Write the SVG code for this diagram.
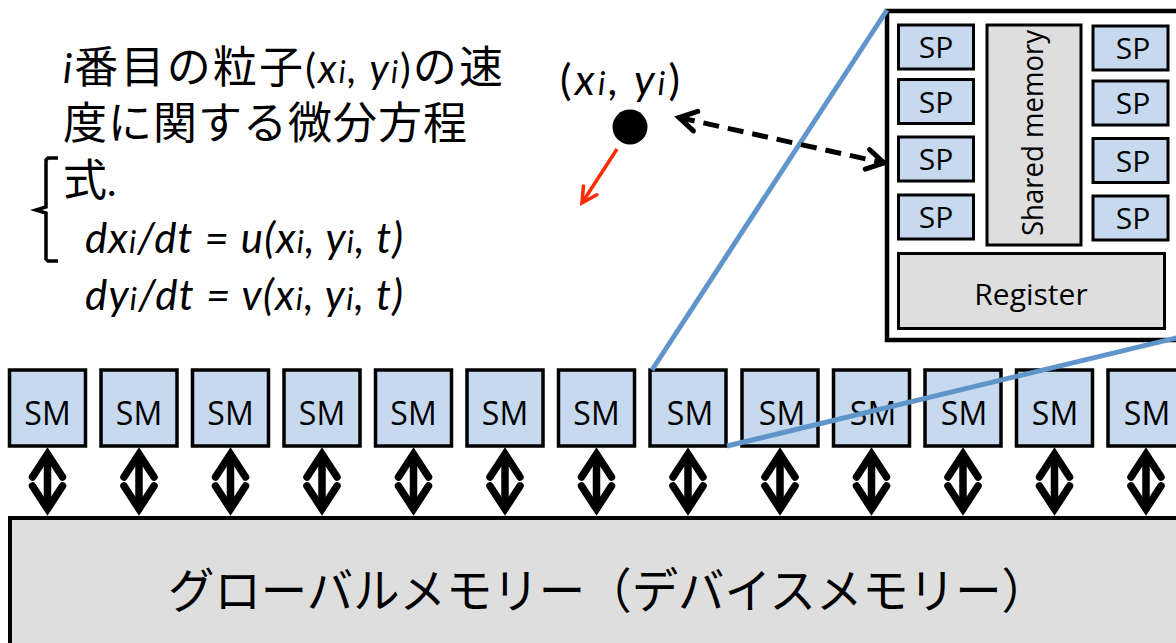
<svg xmlns="http://www.w3.org/2000/svg" xmlns:xlink="http://www.w3.org/1999/xlink" width="1176" height="643" viewBox="0 0 1176 643">
<style>
.sm{fill:#c6d9ee;stroke:#000;stroke-width:3.5}
.sp{fill:#c6d9ee;stroke:#000;stroke-width:3}
.gray{fill:#dedede;stroke:#000;stroke-width:3}
.lbl{font-family:"Open Sans","Liberation Sans",sans-serif;font-size:30px;text-anchor:middle;fill:#000}
.smt{font-size:32px}
.jp{font-family:"Lato","Noto Sans CJK JP",sans-serif;fill:#000}
.it{font-style:italic}
.blue{stroke:#5f95cb;stroke-width:5;fill:none;stroke-linecap:butt}
.arr{stroke:#000;stroke-width:7.5;fill:none;stroke-linecap:round;stroke-linejoin:miter}
</style>
<defs>
<g id="dbl">
<line class="arr" x1="0" y1="455" x2="0" y2="508" stroke-linecap="butt"/>
<polyline class="arr" points="-15,477 0,454 15,477"/>
<polyline class="arr" points="-15,486 0,509 15,486"/>
</g>
<marker id="dhead" markerUnits="userSpaceOnUse" viewBox="-25 -15 30 30" markerWidth="30" markerHeight="30" refX="0" refY="0" orient="auto-start-reverse" overflow="visible">
<polyline points="-17,-10 0,0 -17,10" fill="none" stroke="#000" stroke-width="5" stroke-linecap="round" stroke-linejoin="miter"/>
</marker>
<marker id="rhead" markerUnits="userSpaceOnUse" viewBox="-20 -12 24 24" markerWidth="24" markerHeight="24" refX="0" refY="0" orient="auto" overflow="visible">
<polyline points="-15,-8 0,0 -15,8" fill="none" stroke="#ff2a00" stroke-width="3.5" stroke-linecap="round"/>
</marker>
</defs>
<rect width="1176" height="643" fill="#fff"/>

<g id="text-equation">
<text class="jp" x="63" y="83" font-size="44" textLength="440" lengthAdjust="spacing"><tspan class="it" font-size="40">i</tspan>番目の粒子<tspan font-size="40">(</tspan><tspan class="it" font-size="40">x</tspan><tspan class="it" font-size="30">i</tspan><tspan class="it" font-size="40">, y</tspan><tspan class="it" font-size="30">i</tspan><tspan font-size="40">)</tspan>の速</text>
<text class="jp" x="63" y="139" font-size="44" textLength="404" lengthAdjust="spacing">度に関する微分方程</text>
<text class="jp" x="63" y="196" font-size="44">式<tspan font-size="40">.</tspan></text>
<path d="M58,158 L48,158 L46,160 L46,207 L36,210 L46,213 L46,259 L48,261 L58,261" fill="none" stroke="#000" stroke-width="3.5"/>
<text class="jp it" x="85" y="253" font-size="42" textLength="318" lengthAdjust="spacing">dx<tspan font-size="31">i</tspan>/dt = u(x<tspan font-size="31">i</tspan>, y<tspan font-size="31">i</tspan>, t)</text>
<text class="jp it" x="85" y="310" font-size="42" textLength="318" lengthAdjust="spacing">dy<tspan font-size="31">i</tspan>/dt = v(x<tspan font-size="31">i</tspan>, y<tspan font-size="31">i</tspan>, t)</text>
</g>

<g id="particle">
<text class="jp" x="560" y="95" font-size="43" textLength="120" lengthAdjust="spacing">(<tspan class="it">x</tspan><tspan class="it" font-size="32">i</tspan><tspan class="it">, y</tspan><tspan class="it" font-size="32">i</tspan>)</text>
<circle cx="630" cy="127" r="17.5" fill="#000"/>
</g>

<g id="sm-detail">
<rect x="887" y="11" width="300" height="329" fill="#fff" stroke="#000" stroke-width="4.5"/>
<g id="sp-l1"><rect class="sp" x="898.5" y="25" width="75" height="44"/><text class="lbl" x="936" y="58">SP</text></g>
<g id="sp-l2"><rect class="sp" x="898.5" y="79.5" width="75" height="44"/><text class="lbl" x="936" y="112.5">SP</text></g>
<g id="sp-l3"><rect class="sp" x="898.5" y="137" width="75" height="44"/><text class="lbl" x="936" y="170">SP</text></g>
<g id="sp-l4"><rect class="sp" x="898.5" y="195" width="75" height="44"/><text class="lbl" x="936" y="228">SP</text></g>
<g id="sp-r1"><rect class="sp" x="1093" y="26" width="75" height="44"/><text class="lbl" x="1133" y="59">SP</text></g>
<g id="sp-r2"><rect class="sp" x="1093" y="81" width="75" height="44"/><text class="lbl" x="1133" y="114">SP</text></g>
<g id="sp-r3"><rect class="sp" x="1093" y="138.5" width="75" height="44"/><text class="lbl" x="1133" y="171.5">SP</text></g>
<g id="sp-r4"><rect class="sp" x="1093" y="196" width="75" height="44"/><text class="lbl" x="1133" y="229">SP</text></g>
<g id="shared-memory"><rect class="gray" x="987" y="25" width="94" height="220"/><text class="lbl" font-size="26" transform="translate(1043,133) rotate(-90)" textLength="206" lengthAdjust="spacingAndGlyphs">Shared memory</text></g>
<g id="register"><rect class="gray" x="898.5" y="253.5" width="266" height="75"/><text class="lbl" x="1031" y="305" font-size="29">Register</text></g>
</g>

<g id="sm-row">
<g id="sm1"><rect class="sm" x="9.5" y="370" width="76" height="76"/><text class="lbl smt" x="47.5" y="425">SM</text></g>
<g id="sm2"><rect class="sm" x="101" y="370" width="76" height="76"/><text class="lbl smt" x="139" y="425">SM</text></g>
<g id="sm3"><rect class="sm" x="192.5" y="370" width="76" height="76"/><text class="lbl smt" x="230.5" y="425">SM</text></g>
<g id="sm4"><rect class="sm" x="284" y="370" width="76" height="76"/><text class="lbl smt" x="322" y="425">SM</text></g>
<g id="sm5"><rect class="sm" x="375.5" y="370" width="76" height="76"/><text class="lbl smt" x="413.5" y="425">SM</text></g>
<g id="sm6"><rect class="sm" x="467" y="370" width="76" height="76"/><text class="lbl smt" x="505" y="425">SM</text></g>
<g id="sm7"><rect class="sm" x="558.5" y="370" width="76" height="76"/><text class="lbl smt" x="596.5" y="425">SM</text></g>
<g id="sm8"><rect class="sm" x="650" y="370" width="76" height="76"/><text class="lbl smt" x="690" y="425">SM</text></g>
<g id="sm9"><rect class="sm" x="742" y="370" width="76" height="76"/><text class="lbl smt" x="782" y="425">SM</text></g>
<g id="sm10"><rect class="sm" x="833.5" y="370" width="76" height="76"/><text class="lbl smt" x="873" y="425">SM</text></g>
<g id="sm11"><rect class="sm" x="925" y="370" width="76" height="76"/><text class="lbl smt" x="964" y="425">SM</text></g>
<g id="sm12"><rect class="sm" x="1016.5" y="370" width="76" height="76"/><text class="lbl smt" x="1055" y="425">SM</text></g>
<g id="sm13"><rect class="sm" x="1108" y="370" width="76" height="76"/><text class="lbl smt" x="1147" y="425">SM</text></g>
</g>

<g id="global-memory">
<rect x="10" y="518" width="1180" height="140" fill="#dedede" stroke="#000" stroke-width="4"/>
<text x="168" y="608" font-family="Noto Sans CJK JP, sans-serif" font-size="48" textLength="880" lengthAdjust="spacingAndGlyphs">グローバルメモリー（デバイスメモリー）</text>
</g>

<g id="connectors">
<line class="blue" x1="652" y1="370" x2="887" y2="10"/>
<line class="blue" x1="727" y1="446" x2="1180" y2="337"/>
<line x1="679" y1="117.5" x2="884" y2="163" stroke="#000" stroke-width="5" stroke-dasharray="16,9" marker-start="url(#dhead)" marker-end="url(#dhead)"/>
<line x1="617" y1="149" x2="582" y2="203" stroke="#ff2a00" stroke-width="3.5" marker-end="url(#rhead)"/>
<use xlink:href="#dbl" x="47.5"/>
<use xlink:href="#dbl" x="139"/>
<use xlink:href="#dbl" x="230.5"/>
<use xlink:href="#dbl" x="322"/>
<use xlink:href="#dbl" x="413.5"/>
<use xlink:href="#dbl" x="505"/>
<use xlink:href="#dbl" x="596.5"/>
<use xlink:href="#dbl" x="688"/>
<use xlink:href="#dbl" x="780"/>
<use xlink:href="#dbl" x="871.5"/>
<use xlink:href="#dbl" x="963"/>
<use xlink:href="#dbl" x="1054.5"/>
<use xlink:href="#dbl" x="1146"/>
</g>
</svg>
